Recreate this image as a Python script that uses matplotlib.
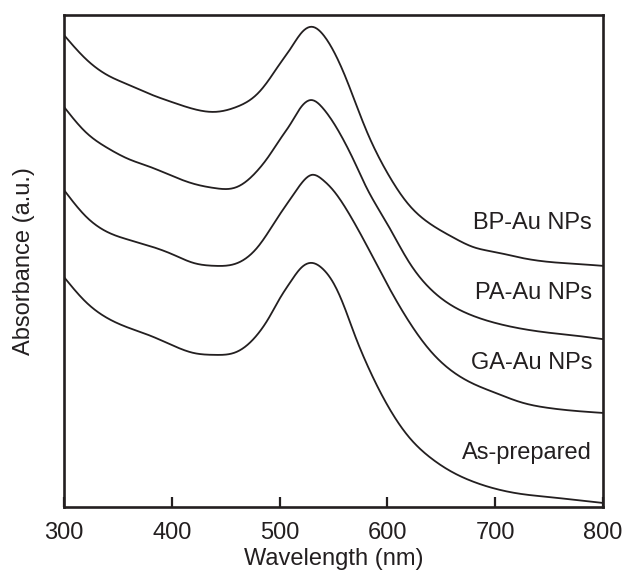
import numpy as np
import matplotlib
matplotlib.use("Agg")
import matplotlib.pyplot as plt

# wavelength grid (nm) and absorbance (a.u., already offset for display)
wavelength = [300, 320, 340, 360, 380, 400, 420, 440, 460, 480, 490, 500, 510, 520, 530,
              540, 550, 560, 570, 580, 600, 620, 640, 660, 680, 700, 725, 750, 775, 800]

bp_au = [0.959, 0.911, 0.878, 0.858, 0.839, 0.823, 0.809, 0.803, 0.813, 0.841, 0.868,
         0.900, 0.931, 0.963, 0.976, 0.961, 0.927, 0.880, 0.824, 0.768, 0.679, 0.614,
         0.575, 0.549, 0.528, 0.518, 0.506, 0.498, 0.494, 0.490]
pa_au = [0.813, 0.762, 0.730, 0.707, 0.691, 0.673, 0.657, 0.648, 0.650, 0.685, 0.713,
         0.746, 0.778, 0.813, 0.827, 0.811, 0.781, 0.743, 0.699, 0.652, 0.575, 0.498,
         0.443, 0.409, 0.388, 0.374, 0.362, 0.354, 0.348, 0.341]
ga_au = [0.644, 0.591, 0.559, 0.543, 0.530, 0.514, 0.496, 0.490, 0.495, 0.529, 0.560,
         0.594, 0.626, 0.657, 0.675, 0.665, 0.643, 0.612, 0.575, 0.535, 0.452, 0.377,
         0.317, 0.276, 0.250, 0.232, 0.212, 0.201, 0.195, 0.191]
as_prepared = [0.467, 0.417, 0.384, 0.364, 0.348, 0.329, 0.313, 0.309, 0.315, 0.352, 0.384,
               0.423, 0.457, 0.486, 0.496, 0.484, 0.455, 0.407, 0.348, 0.295, 0.207, 0.142,
               0.100, 0.071, 0.051, 0.037, 0.026, 0.020, 0.014, 0.008]

labels = ["BP-Au NPs", "PA-Au NPs", "GA-Au NPs", "As-prepared"]
label_y = [0.577, 0.435, 0.293, 0.110]

INK = "#231f20"


def spline(x, y, n=600):
    """Natural cubic spline through the read points (handles uneven spacing)."""
    x = np.asarray(x, float)
    y = np.asarray(y, float)
    h = np.diff(x)
    m = len(x)
    A = np.zeros((m, m))
    b = np.zeros(m)
    A[0, 0] = A[-1, -1] = 1.0
    for i in range(1, m - 1):
        A[i, i - 1] = h[i - 1]
        A[i, i] = 2 * (h[i - 1] + h[i])
        A[i, i + 1] = h[i]
        b[i] = 6 * ((y[i + 1] - y[i]) / h[i] - (y[i] - y[i - 1]) / h[i - 1])
    M = np.linalg.solve(A, b)
    xs = np.linspace(x[0], x[-1], n)
    k = np.clip(np.searchsorted(x, xs) - 1, 0, m - 2)
    hk = h[k]
    a = x[k + 1] - xs
    c = xs - x[k]
    ys = (M[k] * a ** 3 + M[k + 1] * c ** 3) / (6 * hk) \
        + (y[k] / hk - M[k] * hk / 6) * a + (y[k + 1] / hk - M[k + 1] * hk / 6) * c
    return xs, ys


plt.rcParams["font.family"] = ["Liberation Sans", "DejaVu Sans"]

fig = plt.figure(figsize=(6.28, 5.76), dpi=100)
ax = fig.add_axes([0.102, 0.120, 0.858, 0.854])

for series in (bp_au, pa_au, ga_au, as_prepared):
    sx, sy = spline(wavelength, series)
    ax.plot(sx, sy, color=INK, lw=1.3)

for text, y in zip(labels, label_y):
    ax.text(790, y, text, ha="right", va="center", fontsize=17, color=INK)

ax.set_xlim(300, 800)
ax.set_ylim(0, 1)
ax.set_xticks([300, 400, 500, 600, 700, 800])
ax.set_yticks([])
ax.tick_params(axis="x", direction="in", length=7, width=1.6, labelsize=17,
               pad=11, colors=INK)
for sp in ax.spines.values():
    sp.set_linewidth(1.9)
    sp.set_color(INK)

ax.set_xlabel("Wavelength (nm)", fontsize=17, color=INK, labelpad=3)
ax.set_ylabel("Absorbance (a.u.)", fontsize=17, color=INK, labelpad=21)

fig.savefig("out.png", dpi=100)
